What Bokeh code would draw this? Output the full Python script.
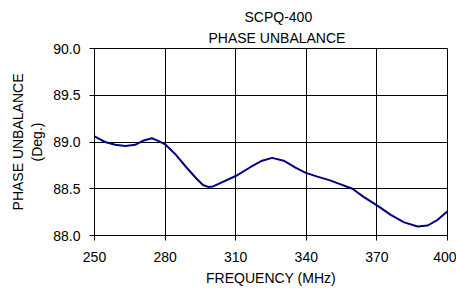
from bokeh.plotting import figure
from bokeh.models import Title, FixedTicker, Range1d, CustomJSTickFormatter
from bokeh.embed import file_html
from bokeh.resources import INLINE

freq = [250, 254.5, 258.8, 263.1, 267.3, 270.9, 274.4, 277.3, 280, 284.7, 289, 293.3,
        296.1, 298.3, 300.4, 303.4, 310, 316.2, 321.2, 325.5, 330.4, 335.4, 339.8,
        344.7, 350.1, 353.2, 359.6, 364.5, 370.2, 375.9, 381.6, 387.3, 391.6, 395.8, 400]
phase = [89.06, 89.00, 88.97, 88.957, 88.97, 89.017, 89.04, 89.01, 88.975, 88.86, 88.73,
         88.61, 88.54, 88.52, 88.525, 88.56, 88.636, 88.73, 88.80, 88.83, 88.80, 88.725,
         88.67, 88.63, 88.59, 88.56, 88.50, 88.41, 88.32, 88.22, 88.14, 88.097, 88.107,
         88.168, 88.258]
x_ticks = [250, 280, 310, 340, 370, 400]
y_ticks = [88.0, 88.5, 89.0, 89.5, 90.0]
title_lines = ["SCPQ-400", "PHASE UNBALANCE"]
title_offsets = [150, 114]
x_label = "FREQUENCY (MHz)"
y_label = "PHASE UNBALANCE\n(Deg.)"

FONT = "Liberation Sans"

p = figure(width=456, height=288, output_backend="svg", toolbar_location=None,
           x_range=Range1d(250, 400), y_range=Range1d(88.0, 90.0),
           min_border_left=94, min_border_right=9, min_border_top=48, min_border_bottom=51)
p.title.visible = False

title_standoffs = [0, 6]
for t, off, so in reversed(list(zip(title_lines, title_offsets, title_standoffs))):
    p.add_layout(Title(text=t, align="left", offset=off, text_font=FONT,
                       text_font_size="14px", text_font_style="normal",
                       text_line_height=1.0, text_color="black", standoff=so), "above")

p.line(freq, phase, line_color="#000080", line_width=2, line_join="round")

p.outline_line_color = "black"
p.outline_line_width = 1
p.background_fill_color = "white"
p.border_fill_color = "white"

p.xaxis.ticker = FixedTicker(ticks=x_ticks)
p.yaxis.ticker = FixedTicker(ticks=y_ticks)
p.yaxis.formatter = CustomJSTickFormatter(code="return tick.toFixed(1);")
p.xgrid.ticker = FixedTicker(ticks=x_ticks)
p.ygrid.ticker = FixedTicker(ticks=y_ticks)
p.grid.grid_line_color = "black"
p.grid.grid_line_alpha = 1.0
p.grid.grid_line_width = 1

for ax in (p.xaxis[0], p.yaxis[0]):
    ax.axis_line_color = "black"
    ax.major_tick_line_color = "black"
    ax.minor_tick_line_color = None
    ax.major_tick_in = 0
    ax.major_tick_out = 5
    ax.major_label_text_font = FONT
    ax.major_label_text_font_size = "14px"
    ax.major_label_text_color = "black"
    ax.axis_label_text_font = FONT
    ax.axis_label_text_font_size = "14px"
    ax.axis_label_text_font_style = "normal"
    ax.axis_label_text_color = "black"

p.xaxis.axis_label = x_label
p.xaxis.major_label_standoff = 11
p.xaxis.axis_label_standoff = 5
p.yaxis.axis_label = y_label
p.yaxis.major_label_standoff = 9
p.yaxis.axis_label_standoff = 5

open("out.html", "w").write(file_html(p, INLINE))
